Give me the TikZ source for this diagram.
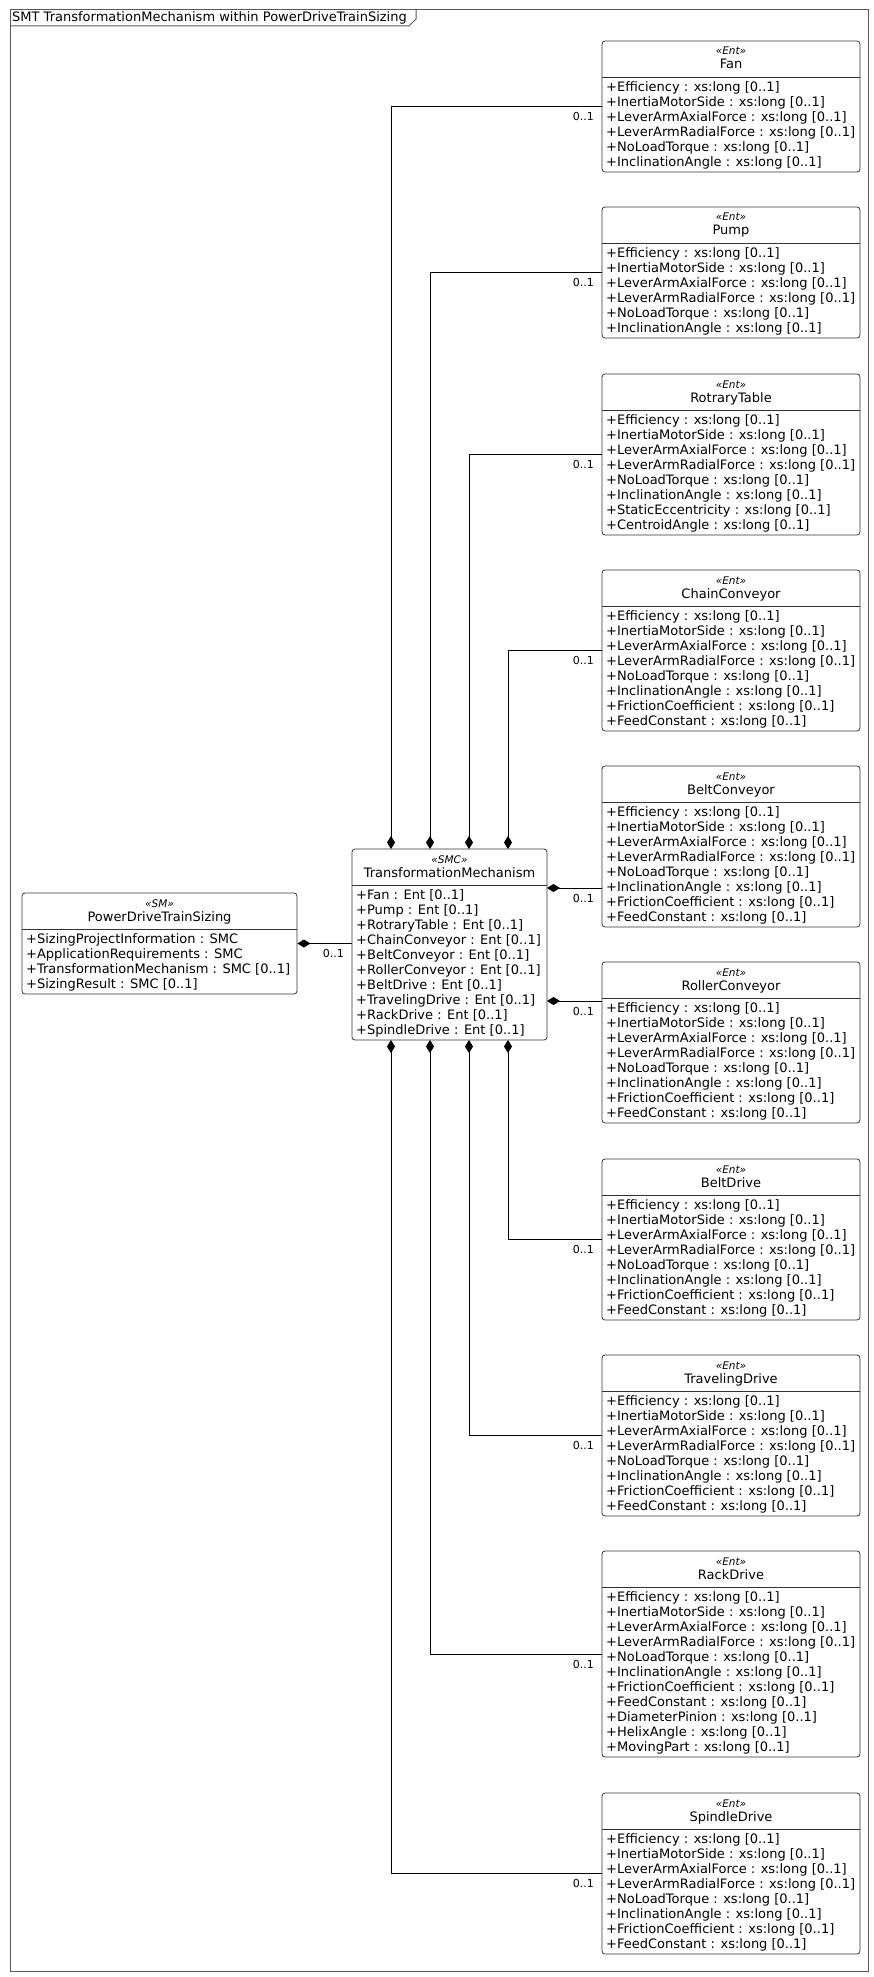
\documentclass[tikz,border=0pt]{standalone}
\usepackage{fontspec}
\setmainfont{DejaVu Sans}
\usetikzlibrary{arrows.meta}

\begin{document}
\begin{tikzpicture}[x=1pt,y=1pt,yscale=-1,xscale=1,
  entbox/.style={draw=black!80,line width=0.8pt,rounded corners=3pt,minimum width=258pt,inner sep=0pt},
  sepline/.style={draw=black!80,line width=0.8pt},
  stereo/.style={anchor=base,inner sep=0pt,font=\fontsize{10.5}{12}\selectfont\itshape},
  cname/.style={anchor=base,inner sep=0pt,font=\fontsize{13}{15}\selectfont},
  attrs/.style={anchor=north west,inner sep=0pt,align=left,font=\fontsize{13}{15}\selectfont},
  mult/.style={anchor=base east,inner sep=0pt,font=\fontsize{11}{13}\selectfont},
  comp/.style={{Diamond[length=13pt,width=8pt]}-,line width=0.8pt}]
\useasboundingbox (0,0) rectangle (874,1977);

%Frame
\draw[black!65,line width=1pt] (10,10) rectangle (868,1971);
\draw[black!65,line width=1pt] (10,26) -- (409,26) -- (416,19) -- (416,10);
% Text Node
\node[anchor=base west,inner sep=0pt,font=\fontsize{13}{15}\selectfont] (title) at (12,22) {SMT TransformationMechanism within PowerDriveTrainSizing};

%Shape: PowerDriveTrainSizing
\node[entbox,minimum width=275pt,minimum height=101pt] (pdts) at (159.5,943.5) {};
\draw[sepline] (22,929) -- (297,929);
\node[stereo] (pdtsS) at (159.5,907) {«SM»};
\node[cname] (pdtsN) at (159.5,921) {PowerDriveTrainSizing};
\node[attrs] (pdtsA) at (26,933) {+SizingProjectInformation : SMC\\+ApplicationRequirements : SMC\\+TransformationMechanism : SMC [0..1]\\+SizingResult : SMC [0..1]};

%Shape: TransformationMechanism
\node[entbox,minimum width=195pt,minimum height=191pt] (tm) at (449.5,944.5) {};
\draw[sepline] (352,885) -- (547,885);
\node[stereo] (tmS) at (449.5,863) {«SMC»};
\node[cname] (tmN) at (449.5,877) {TransformationMechanism};
\node[attrs] (tmA) at (356,889) {+Fan : Ent [0..1]\\+Pump : Ent [0..1]\\+RotraryTable : Ent [0..1]\\+ChainConveyor : Ent [0..1]\\+BeltConveyor : Ent [0..1]\\+RollerConveyor : Ent [0..1]\\+BeltDrive : Ent [0..1]\\+TravelingDrive : Ent [0..1]\\+RackDrive : Ent [0..1]\\+SpindleDrive : Ent [0..1]};

%Shape: Fan
\node[entbox,minimum height=131pt] (fan) at (731,106.5) {};
\draw[sepline] (602,77) -- (860,77);
\node[stereo] (fanS) at (731,55) {«Ent»};
\node[cname] (fanN) at (731,69) {Fan};
\node[attrs] (fanA) at (606,81) {+Efficiency : xs:long [0..1]\\+InertiaMotorSide : xs:long [0..1]\\+LeverArmAxialForce : xs:long [0..1]\\+LeverArmRadialForce : xs:long [0..1]\\+NoLoadTorque : xs:long [0..1]\\+InclinationAngle : xs:long [0..1]};

%Shape: Pump
\node[entbox,minimum height=131pt] (pump) at (731,272.5) {};
\draw[sepline] (602,243) -- (860,243);
\node[stereo] (pumpS) at (731,221) {«Ent»};
\node[cname] (pumpN) at (731,235) {Pump};
\node[attrs] (pumpA) at (606,247) {+Efficiency : xs:long [0..1]\\+InertiaMotorSide : xs:long [0..1]\\+LeverArmAxialForce : xs:long [0..1]\\+LeverArmRadialForce : xs:long [0..1]\\+NoLoadTorque : xs:long [0..1]\\+InclinationAngle : xs:long [0..1]};

%Shape: RotraryTable
\node[entbox,minimum height=161pt] (rotrary) at (731,454.5) {};
\draw[sepline] (602,410) -- (860,410);
\node[stereo] (rotraryS) at (731,388) {«Ent»};
\node[cname] (rotraryN) at (731,402) {RotraryTable};
\node[attrs] (rotraryA) at (606,414) {+Efficiency : xs:long [0..1]\\+InertiaMotorSide : xs:long [0..1]\\+LeverArmAxialForce : xs:long [0..1]\\+LeverArmRadialForce : xs:long [0..1]\\+NoLoadTorque : xs:long [0..1]\\+InclinationAngle : xs:long [0..1]\\+StaticEccentricity : xs:long [0..1]\\+CentroidAngle : xs:long [0..1]};

%Shape: ChainConveyor
\node[entbox,minimum height=161pt] (chain) at (731,650.5) {};
\draw[sepline] (602,606) -- (860,606);
\node[stereo] (chainS) at (731,584) {«Ent»};
\node[cname] (chainN) at (731,598) {ChainConveyor};
\node[attrs] (chainA) at (606,610) {+Efficiency : xs:long [0..1]\\+InertiaMotorSide : xs:long [0..1]\\+LeverArmAxialForce : xs:long [0..1]\\+LeverArmRadialForce : xs:long [0..1]\\+NoLoadTorque : xs:long [0..1]\\+InclinationAngle : xs:long [0..1]\\+FrictionCoefficient : xs:long [0..1]\\+FeedConstant : xs:long [0..1]};

%Shape: BeltConveyor
\node[entbox,minimum height=161pt] (beltconv) at (731,846.5) {};
\draw[sepline] (602,802) -- (860,802);
\node[stereo] (beltconvS) at (731,780) {«Ent»};
\node[cname] (beltconvN) at (731,794) {BeltConveyor};
\node[attrs] (beltconvA) at (606,806) {+Efficiency : xs:long [0..1]\\+InertiaMotorSide : xs:long [0..1]\\+LeverArmAxialForce : xs:long [0..1]\\+LeverArmRadialForce : xs:long [0..1]\\+NoLoadTorque : xs:long [0..1]\\+InclinationAngle : xs:long [0..1]\\+FrictionCoefficient : xs:long [0..1]\\+FeedConstant : xs:long [0..1]};

%Shape: RollerConveyor
\node[entbox,minimum height=161pt] (roller) at (731,1042.5) {};
\draw[sepline] (602,998) -- (860,998);
\node[stereo] (rollerS) at (731,976) {«Ent»};
\node[cname] (rollerN) at (731,990) {RollerConveyor};
\node[attrs] (rollerA) at (606,1002) {+Efficiency : xs:long [0..1]\\+InertiaMotorSide : xs:long [0..1]\\+LeverArmAxialForce : xs:long [0..1]\\+LeverArmRadialForce : xs:long [0..1]\\+NoLoadTorque : xs:long [0..1]\\+InclinationAngle : xs:long [0..1]\\+FrictionCoefficient : xs:long [0..1]\\+FeedConstant : xs:long [0..1]};

%Shape: BeltDrive
\node[entbox,minimum height=161pt] (beltdrive) at (731,1239.5) {};
\draw[sepline] (602,1195) -- (860,1195);
\node[stereo] (beltdriveS) at (731,1173) {«Ent»};
\node[cname] (beltdriveN) at (731,1187) {BeltDrive};
\node[attrs] (beltdriveA) at (606,1199) {+Efficiency : xs:long [0..1]\\+InertiaMotorSide : xs:long [0..1]\\+LeverArmAxialForce : xs:long [0..1]\\+LeverArmRadialForce : xs:long [0..1]\\+NoLoadTorque : xs:long [0..1]\\+InclinationAngle : xs:long [0..1]\\+FrictionCoefficient : xs:long [0..1]\\+FeedConstant : xs:long [0..1]};

%Shape: TravelingDrive
\node[entbox,minimum height=161pt] (travel) at (731,1435.5) {};
\draw[sepline] (602,1391) -- (860,1391);
\node[stereo] (travelS) at (731,1369) {«Ent»};
\node[cname] (travelN) at (731,1383) {TravelingDrive};
\node[attrs] (travelA) at (606,1395) {+Efficiency : xs:long [0..1]\\+InertiaMotorSide : xs:long [0..1]\\+LeverArmAxialForce : xs:long [0..1]\\+LeverArmRadialForce : xs:long [0..1]\\+NoLoadTorque : xs:long [0..1]\\+InclinationAngle : xs:long [0..1]\\+FrictionCoefficient : xs:long [0..1]\\+FeedConstant : xs:long [0..1]};

%Shape: RackDrive
\node[entbox,minimum height=206pt] (rack) at (731,1654) {};
\draw[sepline] (602,1587) -- (860,1587);
\node[stereo] (rackS) at (731,1565) {«Ent»};
\node[cname] (rackN) at (731,1579) {RackDrive};
\node[attrs] (rackA) at (606,1591) {+Efficiency : xs:long [0..1]\\+InertiaMotorSide : xs:long [0..1]\\+LeverArmAxialForce : xs:long [0..1]\\+LeverArmRadialForce : xs:long [0..1]\\+NoLoadTorque : xs:long [0..1]\\+InclinationAngle : xs:long [0..1]\\+FrictionCoefficient : xs:long [0..1]\\+FeedConstant : xs:long [0..1]\\+DiameterPinion : xs:long [0..1]\\+HelixAngle : xs:long [0..1]\\+MovingPart : xs:long [0..1]};

%Shape: SpindleDrive
\node[entbox,minimum height=161pt] (spindle) at (731,1873.5) {};
\draw[sepline] (602,1829) -- (860,1829);
\node[stereo] (spindleS) at (731,1807) {«Ent»};
\node[cname] (spindleN) at (731,1821) {SpindleDrive};
\node[attrs] (spindleA) at (606,1833) {+Efficiency : xs:long [0..1]\\+InertiaMotorSide : xs:long [0..1]\\+LeverArmAxialForce : xs:long [0..1]\\+LeverArmRadialForce : xs:long [0..1]\\+NoLoadTorque : xs:long [0..1]\\+InclinationAngle : xs:long [0..1]\\+FrictionCoefficient : xs:long [0..1]\\+FeedConstant : xs:long [0..1]};

%Ports on TransformationMechanism
\coordinate (tmT1) at (391,849);
\coordinate (tmT2) at (430,849);
\coordinate (tmT3) at (469,849);
\coordinate (tmT4) at (508,849);
\coordinate (tmB1) at (391,1040);
\coordinate (tmB2) at (430,1040);
\coordinate (tmB3) at (469,1040);
\coordinate (tmB4) at (508,1040);
\coordinate (tmR1) at (547,888);
\coordinate (tmR2) at (547,1001);

%Compositions
\draw[comp] (pdts.east) -- (pdts.east -| tm.west);
\draw[comp] (tmT1) |- (fan.west);
\draw[comp] (tmT2) |- (pump.west);
\draw[comp] (tmT3) |- (rotrary.west);
\draw[comp] (tmT4) |- (chain.west);
\draw[comp] (tmR1) -- (tmR1 -| beltconv.west);
\draw[comp] (tmR2) -- (tmR2 -| roller.west);
\draw[comp] (tmB4) |- (beltdrive.west);
\draw[comp] (tmB3) |- (travel.west);
\draw[comp] (tmB2) |- (rack.west);
\draw[comp] (tmB1) |- (spindle.west);

%Multiplicities
\node[mult] (m0) at (344,957.5) {0..1};
\node[mult] (m1) at (594,120.5) {0..1};
\node[mult] (m2) at (594,286.5) {0..1};
\node[mult] (m3) at (594,468.5) {0..1};
\node[mult] (m4) at (594,664.5) {0..1};
\node[mult] (m5) at (594,902) {0..1};
\node[mult] (m6) at (594,1015) {0..1};
\node[mult] (m7) at (594,1253.5) {0..1};
\node[mult] (m8) at (594,1449.5) {0..1};
\node[mult] (m9) at (594,1668) {0..1};
\node[mult] (m10) at (594,1887.5) {0..1};

\end{tikzpicture}
\end{document}
